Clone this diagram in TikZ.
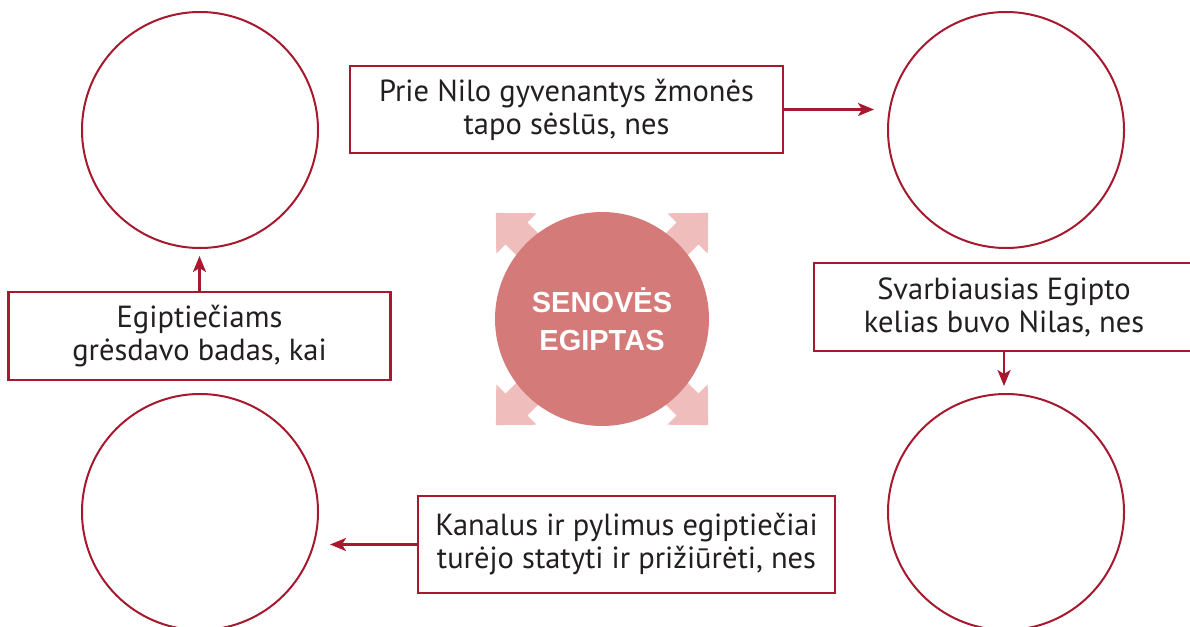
\documentclass[tikz,border=0pt]{standalone}
\usepackage{fontspec}
\setmainfont{PT Sans}
\newfontfamily\titlefont{Liberation Sans}
\usetikzlibrary{arrows.meta}
\definecolor{dred}{HTML}{A6192E}
\definecolor{txt}{HTML}{231F20}
\definecolor{midpink}{HTML}{D47A78}
\definecolor{lightpink}{HTML}{EFBDBC}
\tikzset{
  ring/.style={circle, draw=dred, line width=2pt, minimum size=236pt, inner sep=0pt},
  qbox/.style={draw=dred, line width=2.4pt, fill=white, text=txt, align=center, inner sep=0pt,
    font=\fontsize{30.5}{33}\selectfont},
  conn/.style={draw=dred, line width=2.4pt, -{Stealth[length=16pt,width=13pt,inset=4pt]}},
  cornerarrow/.style={fill=lightpink, draw=none}
}
\begin{document}
\begin{tikzpicture}[x=1pt,y=-1pt]
\useasboundingbox (0,0) rectangle (1190,626);
\fill[white] (0,0) rectangle (1190,626);
% outer circles
\node[ring] (tlc) at (200,130) {};
\node[ring] (trc) at (1006,130) {};
\node[ring] (blc) at (200,512) {};
\node[ring] (brc) at (1006,512) {};
% corner arrows
\foreach \a in {45,135,225,315}{
  \begin{scope}[shift={(602,319)}, rotate=\a]
    \fill[cornerarrow] (0,-15.5) -- (121,-15.5) -- (121,-28.5) -- (150,0) -- (121,28.5) -- (121,15.5) -- (0,15.5) -- cycle;
  \end{scope}
}
% center
\node[circle, fill=midpink, minimum size=214pt, inner sep=0pt, text=white, align=center,
  font=\titlefont\bfseries\fontsize{29}{38}\selectfont] (center) at (602,319) {SENOVĖS\\EGIPTAS};
% boxes
\node[qbox, minimum width=433pt, minimum height=87pt] (tbox) at (566.5,109.5)
  {Prie Nilo gyvenantys žmonės\\tapo sėslūs, nes};
\node[qbox, minimum width=382pt, minimum height=88pt] (lbox) at (199.5,336)
  {Egiptiečiams\\grėsdavo badas, kai};
\node[qbox, minimum width=380pt, minimum height=88pt] (rbox) at (1004,307)
  {Svarbiausias Egipto\\kelias buvo Nilas, nes};
\node[qbox, minimum width=417pt, minimum height=97pt] (bbox) at (626.5,544.5)
  {Kanalus ir pylimus egiptiečiai\\turėjo statyti ir prižiūrėti, nes};
% connectors
\draw[conn, shorten >=13pt] (tbox.east) -- (tbox.east -| trc.west);
\draw[conn, shorten >=7pt] (lbox.north) -- (lbox.north |- tlc.south);
\draw[conn, shorten >=7pt] (rbox.south) -- (rbox.south |- brc.north);
\draw[conn, shorten >=11pt] (bbox.west) -- (bbox.west -| blc.east);
\end{tikzpicture}
\end{document}
